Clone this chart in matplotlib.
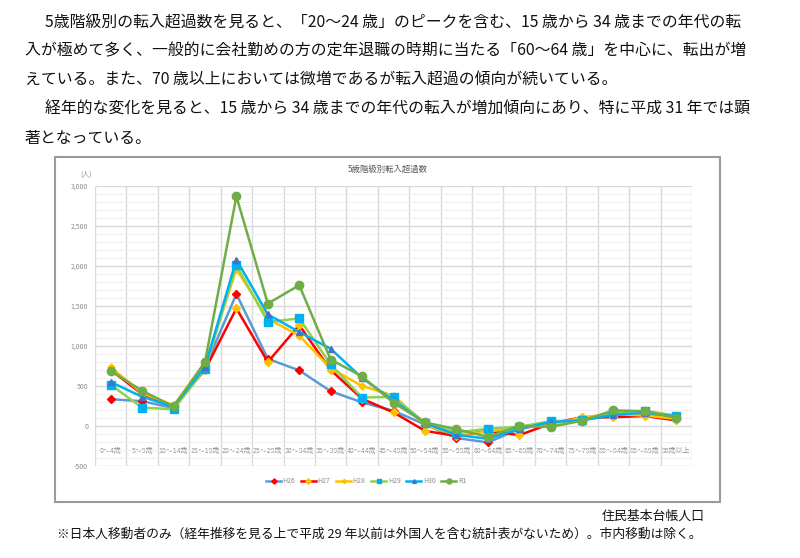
import matplotlib
matplotlib.use('Agg')
import matplotlib.pyplot as plt
from matplotlib.patches import Rectangle
from matplotlib.lines import Line2D
import numpy as np

plt.rcParams['font.family'] = ['Noto Sans CJK JP', 'DejaVu Sans']

categories = ['0～4歳', '5～9歳', '10～14歳', '15～19歳', '20～24歳', '25～29歳', '30～34歳',
              '35～39歳', '40～44歳', '45～49歳', '50～54歳', '55～59歳', '60～64歳', '65～69歳',
              '70～74歳', '75～79歳', '80～84歳', '85～89歳', '90歳以上']

h26 = [335, 310, 225, 730, 1650, 840, 695, 435, 295, 190, 20, -150, -205, -40, 40, 80, 125, 150, 100]
h27 = [700, 400, 250, 700, 1470, 800, 1260, 700, 340, 170, -60, -125, -60, -115, 30, 110, 110, 125, 70]
h28 = [735, 410, 260, 760, 1960, 1340, 1130, 720, 500, 380, 10, -110, -70, -20, 10, 110, 150, 130, 90]
h29 = [515, 230, 210, 710, 2010, 1300, 1345, 770, 355, 365, 40, -80, -35, -10, 60, 70, 170, 190, 130]
h30 = [550, 365, 240, 740, 2080, 1395, 1175, 965, 600, 320, 35, -110, -160, -35, 50, 70, 140, 165, 120]
r1 = [690, 440, 245, 800, 2870, 1530, 1760, 830, 620, 290, 45, -40, -135, 0, -10, 65, 195, 185, 100]

series_names = ['H26', 'H27', 'H28', 'H29', 'H30', 'R1']
series_values = [h26, h27, h28, h29, h30, r1]
# (線の色, マーカーの色, マーカー, サイズ)
styles = [('#5B9BD5', '#FF0000', 'D', 4.5),
          ('#FF0000', '#FFC000', 'D', 4.5),
          ('#FFC000', '#FFC000', 'D', 3.5),
          ('#92D050', '#00B0F0', 's', 5.5),
          ('#00B0F0', '#4472C4', '^', 4.5),
          ('#70AD47', '#70AD47', 'o', 6)]

body_lines = [
    (45, '5歳階級別の転入超過数を見ると、「20～24 歳」のピークを含む、15 歳から 34 歳までの年代の転'),
    (25, '入が極めて多く、一般的に会社勤めの方の定年退職の時期に当たる「60～64 歳」を中心に、転出が増'),
    (25, 'えている。また、70 歳以上においては微増であるが転入超過の傾向が続いている。'),
    (45, '経年的な変化を見ると、15 歳から 34 歳までの年代の転入が増加傾向にあり、特に平成 31 年では顕'),
    (25, '著となっている。'),
]

W, H = 800, 558
fig = plt.figure(figsize=(W / 100, H / 100), dpi=100)

# 本文
for i, (x0, line) in enumerate(body_lines):
    fig.text(x0 / W, 1 - (22 + 29 * i) / H, line, fontsize=11.4, va='center', ha='left', color='#111111')

# グラフ枠
fig.patches.append(Rectangle((55 / W, 1 - 502 / H), 665 / W, 345 / H, transform=fig.transFigure,
                             fill=False, edgecolor='#9a9a9a', linewidth=1.5))

ax = fig.add_axes([95 / W, 1 - 466 / H, 597 / W, 280 / H])
x = np.arange(len(categories))
for name, vals, (lc, mc, mk, ms) in zip(series_names, series_values, styles):
    ax.plot(x, vals, color=lc, linewidth=1.8, marker=mk, markersize=ms,
            markerfacecolor=mc, markeredgecolor=mc, label=name, zorder=3)

ax.set_xlim(-0.5, len(categories) - 0.5)
ax.set_ylim(-500, 3000)
ax.set_yticks(np.arange(-500, 3001, 500))
ax.set_yticklabels(['{:,}'.format(v) for v in range(-500, 3001, 500)])
ax.set_yticks(np.arange(-500, 3001, 100), minor=True)
ax.set_xticks(x)
ax.set_xticklabels(categories)
ax.set_xticks(np.arange(-0.5, len(categories), 1), minor=True)

ax.grid(True, which='major', axis='y', color='#d9d9d9', linewidth=1.0)
ax.grid(True, which='minor', axis='y', color='#efefef', linewidth=0.7)
ax.grid(True, which='minor', axis='x', color='#d9d9d9', linewidth=1.0)
ax.set_axisbelow(True)
for s in ax.spines.values():
    s.set_visible(False)
ax.tick_params(axis='both', which='both', length=0)
ax.tick_params(axis='y', labelsize=5, labelcolor='#8c8c8c', pad=5)
ax.tick_params(axis='x', labelsize=5, labelcolor='#8c8c8c', pad=-14)

fig.text(388 / W, 1 - 169 / H, '5歳階級別転入超過数', fontsize=6, color='#595959', ha='center', va='center')
fig.text(86 / W, 1 - 175 / H, '(人)', fontsize=5, color='#8c8c8c', ha='center', va='center')

handles = [Line2D([0], [0], color=lc, linewidth=1.8, marker=mk, markersize=ms * 0.6,
                  markerfacecolor=mc, markeredgecolor=mc) for (lc, mc, mk, ms) in styles]
leg = fig.legend(handles, series_names, loc='center', bbox_to_anchor=(366 / W, 1 - 481 / H),
                 ncol=6, frameon=False, fontsize=5, handlelength=2.2, handletextpad=0.2,
                 columnspacing=0.8)
for t in leg.get_texts():
    t.set_color('#8c8c8c')

# 出典・注記
fig.text(705 / W, 1 - 516 / H, '住民基本台帳人口', fontsize=9.3, ha='right', va='center', color='#111111')
fig.text(57 / W, 1 - 534 / H,
         '※日本人移動者のみ（経年推移を見る上で平成 29 年以前は外国人を含む統計表がないため）。市内移動は除く。',
         fontsize=9.2, ha='left', va='center', color='#111111')

fig.savefig('out.png', dpi=100)
